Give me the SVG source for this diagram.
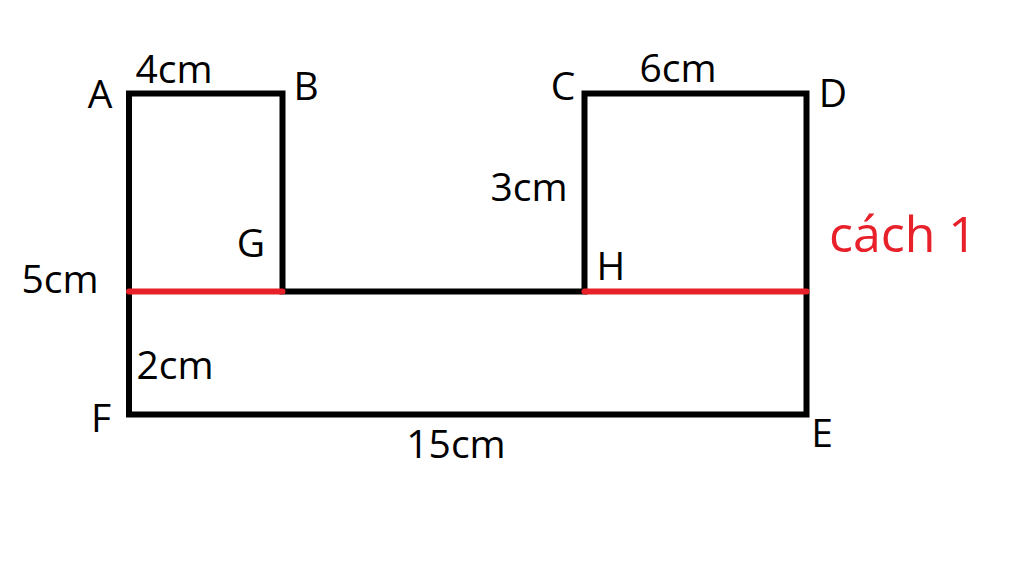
<svg xmlns="http://www.w3.org/2000/svg" width="1024" height="575" viewBox="0 0 1024 575">
<style>
.lbl{font-family:"Open Sans","Liberation Sans",sans-serif;font-size:39px;fill:#000;text-anchor:middle}
.red{font-family:"Open Sans","Liberation Sans",sans-serif;font-size:50px;fill:#e8202a}
.edge{fill:none;stroke:#000;stroke-width:6;stroke-linejoin:miter}
.cut{stroke:#e8202a;stroke-width:6;stroke-linecap:round}
</style>
<rect width="1024" height="575" fill="#fff"/>
<g id="connectors">
<path class="edge" d="M129,93.5 H282.5 V291.5 H584.5 V93.5 H806.5 V414.5 H129 Z"/>
<line class="cut" x1="129" y1="291.5" x2="282.5" y2="291.5"/>
<line class="cut" x1="584.5" y1="291.5" x2="806.5" y2="291.5"/>
</g>
<g id="A"><text class="lbl" x="100" y="108">A</text></g>
<g id="B"><text class="lbl" x="306" y="100">B</text></g>
<g id="C"><text class="lbl" x="563" y="100">C</text></g>
<g id="D"><text class="lbl" x="833" y="107">D</text></g>
<g id="E"><text class="lbl" x="822" y="447">E</text></g>
<g id="F"><text class="lbl" x="101" y="432">F</text></g>
<g id="G"><text class="lbl" x="251" y="257">G</text></g>
<g id="H"><text class="lbl" x="611" y="280">H</text></g>
<g id="dims">
<text class="lbl" x="174" y="83">4cm</text>
<text class="lbl" x="678" y="82">6cm</text>
<text class="lbl" x="529" y="201">3cm</text>
<text class="lbl" x="60" y="293">5cm</text>
<text class="lbl" x="175" y="379">2cm</text>
<text class="lbl" x="456" y="458">15cm</text>
<text class="red" x="829" y="252">cách 1</text>
</g>
</svg>
